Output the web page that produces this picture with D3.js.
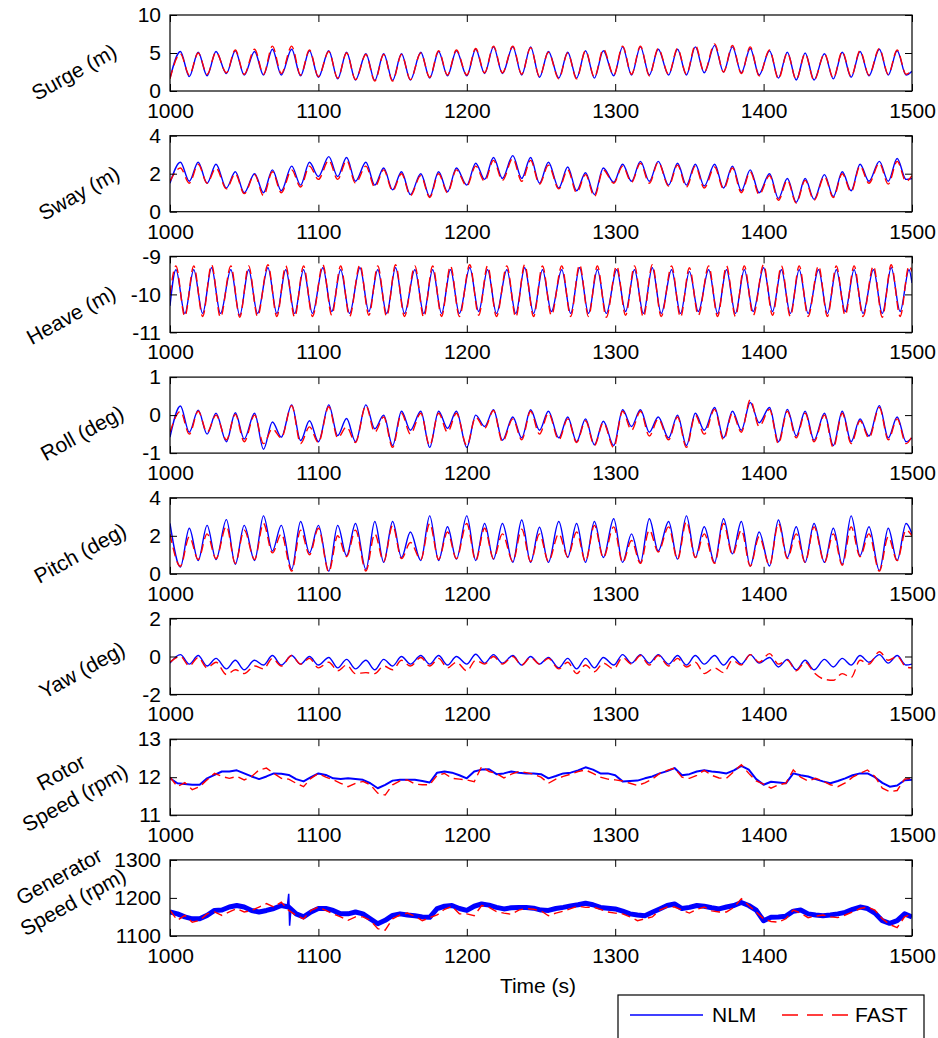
<!DOCTYPE html>
<html>
<head>
<meta charset="utf-8">
<title>NLM vs FAST</title>
<script src="https://d3js.org/d3.v7.min.js"></script>
<style>
  body { margin: 0; background: #fff; }
  text { font-family: "Liberation Sans", Arial, sans-serif; fill: #000; }
</style>
</head>
<body>
<svg id="chart" width="938" height="1038"></svg>
<script>
// ---- data ----
const xTicks = [1000, 1100, 1200, 1300, 1400, 1500];

// times of wave peaks / troughs (surge, sway, roll, pitch, yaw)
const waveT = [1000,1007,1013,1019,1025,1031,1038,1044,1050,1057,
  1063,1069,1075,1082,1088,1094,1100,1107,1113,1119,
  1125,1132,1138,1144,1150,1156,1162,1169,1175,1181,
  1187,1193,1200,1206,1212,1218,1224,1231,1237,1243,
  1249,1255,1262,1268,1274,1280,1286,1292,1299,1305,
  1311,1317,1323,1329,1336,1342,1348,1354,1360,1367,
  1373,1379,1385,1391,1397,1404,1410,1416,1422,1428,
  1434,1441,1447,1453,1459,1465,1471,1478,1484,1490,
  1496,1500];
// heave runs a quarter period ahead
const heaveT = [1000,1004,1010,1016,1022,1028,1034,1041,1047,1053,
  1059,1066,1072,1078,1084,1090,1096,1103,1109,1115,
  1121,1128,1134,1140,1146,1152,1158,1165,1171,1177,
  1183,1189,1195,1202,1208,1214,1220,1227,1233,1239,
  1245,1251,1257,1264,1270,1276,1282,1288,1294,1301,
  1307,1313,1319,1325,1331,1338,1344,1350,1356,1363,
  1369,1375,1381,1387,1393,1400,1406,1412,1418,1424,
  1430,1437,1443,1449,1455,1461,1467,1474,1480,1486,
  1492,1498,1500];
// rotor / generator speed sampled every 5 s
const speedT = d3.range(1000, 1501, 5);

const surgeNLM = [1.7,5.2,1.9,5.1,2.0,5.2,2.3,5.3,2.1,5.2,
  2.1,5.5,2.1,5.5,2.0,5.3,1.8,5.3,1.6,5.1,
  1.45,4.9,1.4,4.9,1.4,4.9,1.45,5.1,1.7,5.2,
  2.0,5.3,2.0,5.5,2.3,5.8,2.3,5.8,2.1,5.8,
  1.8,5.2,1.7,5.1,1.7,5.3,1.7,5.3,2.0,5.8,
  2.1,5.8,2.1,5.5,2.1,5.5,2.1,5.8,2.4,6.0,
  2.5,5.8,2.4,5.6,2.1,5.3,1.7,5.1,1.45,5.0,
  1.45,4.9,1.6,5.1,1.8,5.2,2.0,5.5,2.1,5.3,
  2.1,2.6];
const surgeFAST = [1.6,4.9,2.1,5.0,2.2,5.1,2.4,5.4,2.2,5.5,
  2.2,5.9,2.3,5.9,2.1,5.4,1.9,5.2,1.7,5.0,
  1.5,4.8,1.3,4.8,1.3,4.8,1.5,5.0,1.8,5.3,
  2.1,5.4,2.1,5.6,2.4,5.9,2.4,5.9,2.2,5.7,
  1.9,5.1,1.6,5.0,1.6,5.3,1.8,5.5,2.1,5.9,
  2.2,5.9,2.0,5.6,2.2,5.6,2.2,6.0,2.5,6.2,
  2.5,6.0,2.3,5.8,2.0,5.4,1.6,5.0,1.5,4.9,
  1.4,4.9,1.7,5.2,1.9,5.3,2.1,5.6,2.2,5.4,
  2.2,2.8];

const swayNLM = [1.5,2.6,1.6,2.6,1.5,2.5,1.25,2.1,1.0,2.0,
  1.0,2.2,1.1,2.4,1.4,2.6,1.85,2.9,1.85,2.85,
  1.6,2.6,1.4,2.3,1.15,2.1,0.9,2.0,0.8,2.1,
  1.05,2.3,1.4,2.55,1.7,2.85,1.75,2.95,1.75,2.85,
  1.5,2.6,1.25,2.35,1.1,2.05,0.9,2.3,1.55,2.5,
  1.6,2.65,1.6,2.65,1.4,2.55,1.4,2.5,1.35,2.5,
  1.25,2.4,1.1,2.2,1.0,2.0,0.7,1.75,0.5,1.75,
  0.65,1.95,0.8,2.1,1.1,2.5,1.6,2.65,1.6,2.8,
  1.7,1.75];
const swayFAST = [1.6,2.3,1.5,2.5,1.5,2.3,1.2,2.0,0.95,1.95,
  0.85,2.1,1.0,2.2,1.3,2.4,1.7,2.7,1.7,2.7,
  1.5,2.4,1.3,2.2,1.1,2.0,0.85,1.9,0.75,2.0,
  1.0,2.2,1.35,2.4,1.6,2.7,1.65,2.8,1.6,2.7,
  1.45,2.45,1.2,2.2,1.0,1.95,0.8,2.2,1.5,2.4,
  1.55,2.55,1.5,2.6,1.35,2.45,1.3,2.4,1.25,2.35,
  1.2,2.3,1.0,2.1,0.9,1.9,0.6,1.65,0.45,1.65,
  0.6,1.85,0.75,2.0,1.05,2.4,1.5,2.55,1.45,2.65,
  1.6,1.9];

const heaveNLM = [-10.3,-9.35,-10.5,-9.35,-10.5,-9.3,-10.5,-9.35,-10.55,-9.35,
  -10.5,-9.3,-10.5,-9.35,-10.5,-9.35,-10.5,-9.3,-10.45,-9.35,
  -10.5,-9.3,-10.45,-9.35,-10.5,-9.3,-10.5,-9.35,-10.5,-9.35,
  -10.5,-9.35,-10.5,-9.3,-10.45,-9.35,-10.5,-9.35,-10.5,-9.3,
  -10.5,-9.35,-10.45,-9.35,-10.5,-9.3,-10.5,-9.35,-10.5,-9.35,
  -10.45,-9.35,-10.5,-9.3,-10.5,-9.35,-10.5,-9.4,-10.45,-9.35,
  -10.5,-9.35,-10.5,-9.35,-10.45,-9.3,-10.45,-9.35,-10.5,-9.35,
  -10.5,-9.35,-10.5,-9.35,-10.45,-9.35,-10.5,-9.35,-10.5,-9.3,
  -10.45,-9.35,-9.7];
const heaveFAST = [-10.0,-9.25,-10.58,-9.25,-10.58,-9.22,-10.6,-9.25,-10.6,-9.25,
  -10.58,-9.22,-10.58,-9.25,-10.6,-9.25,-10.58,-9.22,-10.55,-9.25,
  -10.58,-9.22,-10.55,-9.25,-10.58,-9.22,-10.58,-9.25,-10.6,-9.25,
  -10.58,-9.25,-10.58,-9.22,-10.55,-9.25,-10.58,-9.25,-10.6,-9.22,
  -10.58,-9.25,-10.55,-9.25,-10.58,-9.22,-10.58,-9.25,-10.6,-9.25,
  -10.55,-9.25,-10.6,-9.22,-10.58,-9.25,-10.6,-9.3,-10.55,-9.25,
  -10.58,-9.25,-10.58,-9.25,-10.55,-9.22,-10.55,-9.25,-10.58,-9.25,
  -10.58,-9.25,-10.58,-9.25,-10.55,-9.25,-10.58,-9.25,-10.6,-9.22,
  -10.58,-9.25,-9.4];

const rollNLM = [-0.58,0.24,-0.45,0.13,-0.5,0.05,-0.7,0.06,-0.63,0.05,
  -0.9,-0.18,-0.58,0.27,-0.67,-0.15,-0.7,0.27,-0.54,-0.09,
  -0.7,0.27,-0.36,0.0,-0.8,0.1,-0.4,0.1,-0.85,0.1,
  -0.35,0.1,-0.85,0.0,-0.3,0.14,-0.66,-0.05,-0.6,0.14,
  -0.4,0.1,-0.6,-0.05,-0.7,-0.1,-0.78,-0.16,-0.8,0.14,
  -0.3,0.14,-0.45,-0.05,-0.6,0.0,-0.8,0.05,-0.4,0.2,
  -0.6,0.1,-0.4,0.33,-0.2,0.2,-0.7,0.15,-0.55,0.1,
  -0.66,0.05,-0.8,0.1,-0.7,-0.1,-0.55,0.25,-0.6,-0.05,
  -0.7,-0.6];
const rollFAST = [-0.45,0.1,-0.5,0.1,-0.45,0.0,-0.65,0.02,-0.7,0.0,
  -0.75,-0.36,-0.6,0.25,-0.75,-0.31,-0.72,0.22,-0.6,-0.31,
  -0.72,0.25,-0.45,-0.05,-0.85,0.05,-0.5,0.05,-0.8,0.05,
  -0.45,0.05,-0.8,-0.05,-0.35,0.12,-0.7,-0.1,-0.65,0.1,
  -0.5,0.05,-0.65,-0.1,-0.72,-0.15,-0.8,-0.2,-0.85,0.1,
  -0.4,0.1,-0.55,-0.1,-0.65,-0.05,-0.85,0.0,-0.5,0.15,
  -0.65,0.05,-0.45,0.4,-0.3,0.15,-0.75,0.1,-0.6,0.05,
  -0.7,0.0,-0.85,0.05,-0.75,-0.15,-0.6,0.2,-0.65,-0.1,
  -0.75,-0.55];

const pitchNLM = [2.65,0.36,2.4,0.7,2.55,0.75,2.85,0.5,2.55,0.7,
  3.05,1.2,2.55,0.23,2.75,1.1,2.55,0.14,2.55,0.95,
  2.65,0.23,2.75,0.6,2.75,0.86,2.2,0.7,3.05,0.7,
  2.48,0.77,3.05,0.7,2.65,0.77,2.65,0.6,2.83,0.6,
  2.45,0.6,2.75,0.86,2.65,0.6,2.75,0.86,2.9,0.6,
  2.1,0.6,2.9,1.2,2.75,0.77,3.05,0.86,2.48,0.6,
  2.9,1.05,2.75,0.41,2.2,0.41,2.83,0.86,2.48,0.6,
  2.65,0.6,2.4,0.5,3.05,0.95,2.48,0.18,2.4,0.7,
  2.65,2.1];
const pitchFAST = [2.1,0.4,1.95,0.75,2.1,0.8,2.5,0.55,2.3,0.75,
  2.65,1.1,2.1,0.14,2.3,1.0,2.4,0.1,2.0,0.9,
  2.3,0.15,2.1,0.65,2.55,0.8,1.65,0.75,2.65,0.75,
  2.2,0.8,2.65,0.7,2.4,0.8,2.1,0.65,2.35,0.65,
  2.1,0.65,2.1,0.9,2.2,0.65,2.55,0.85,2.47,0.6,
  1.75,0.55,2.3,1.15,2.47,0.75,2.75,0.85,2.1,0.55,
  2.65,1.0,2.3,0.4,1.95,0.45,2.65,0.8,2.1,0.6,
  2.47,0.6,2.1,0.45,2.47,0.9,2.1,0.14,1.95,0.7,
  2.3,2.0];

const yawNLM = [-0.35,0.1,-0.4,0.05,-0.5,-0.1,-0.65,-0.2,-0.7,-0.2,
  -0.45,0.05,-0.45,0.05,-0.4,0.0,-0.45,-0.05,-0.6,-0.15,
  -0.65,-0.2,-0.7,-0.15,-0.5,0.0,-0.4,0.05,-0.4,0.05,
  -0.45,0.0,-0.4,0.12,-0.35,0.1,-0.35,0.05,-0.45,0.0,
  -0.4,-0.05,-0.6,-0.1,-0.65,-0.1,-0.6,-0.05,-0.45,0.1,
  -0.35,0.1,-0.35,0.1,-0.4,0.05,-0.45,0.05,-0.4,0.05,
  -0.45,0.0,-0.4,0.1,-0.35,-0.05,-0.55,-0.15,-0.7,-0.2,
  -0.7,-0.15,-0.55,-0.1,-0.45,0.05,-0.3,0.1,-0.35,0.05,
  -0.45,-0.4];
const yawFAST = [-0.3,0.0,-0.5,-0.05,-0.6,-0.3,-0.95,-0.7,-0.9,-0.5,
  -0.65,-0.1,-0.5,0.05,-0.4,-0.1,-0.6,-0.3,-0.75,-0.45,
  -0.9,-0.85,-0.9,-0.5,-0.7,-0.2,-0.5,-0.05,-0.5,-0.1,
  -0.6,-0.3,-0.75,-0.2,-0.4,0.0,-0.4,0.0,-0.45,-0.05,
  -0.4,-0.1,-0.65,-0.3,-0.9,-0.45,-0.8,-0.35,-0.65,-0.05,
  -0.4,0.05,-0.45,0.05,-0.5,-0.1,-0.55,-0.3,-0.9,-0.6,
  -0.85,-0.2,-0.45,0.1,-0.3,0.15,-0.4,-0.2,-0.75,-0.3,
  -0.85,-1.2,-1.25,-0.9,-1.1,-0.2,-0.4,0.25,-0.2,0.0,
  -0.55,-0.6];

const rotorNLM = [11.97,11.84,11.82,11.8,11.8,11.97,12.06,12.15,12.15,12.18,
  12.1,12.02,11.95,12.02,12.1,12.09,12.06,11.95,11.89,12.0,
  12.1,12.06,11.97,11.95,11.97,11.95,11.93,11.84,11.71,11.8,
  11.91,11.93,11.93,11.93,11.9,11.86,12.12,12.15,12.12,12.05,
  11.97,12.15,12.2,12.21,12.08,12.1,12.15,12.12,12.1,12.1,
  12.08,11.97,12.03,12.1,12.12,12.18,12.26,12.2,12.1,12.1,
  12.05,11.89,11.9,11.91,11.97,12.02,12.1,12.16,12.24,12.05,
  12.08,12.15,12.18,12.15,12.13,12.1,12.18,12.3,12.2,11.95,
  11.8,11.88,11.86,11.84,12.1,12.05,12.02,11.95,11.89,11.84,
  11.9,11.97,12.05,12.1,12.1,12.0,11.85,11.75,11.78,11.92,
  11.93];
const rotorFAST = [12.0,11.75,11.86,11.67,11.75,11.93,12.1,12.02,11.97,12.02,
  11.93,12.02,12.19,12.24,12.1,11.97,11.95,11.84,11.75,11.97,
  12.1,12.0,11.93,11.84,11.75,11.84,11.89,11.8,11.58,11.53,
  11.8,11.9,11.93,11.82,11.8,11.8,12.05,12.1,11.97,11.95,
  11.93,11.88,12.28,12.15,12.1,11.98,12.08,12.15,12.12,12.08,
  12.0,11.84,11.95,12.02,12.08,12.15,12.19,12.1,12.0,11.95,
  11.93,11.9,11.84,11.78,11.85,11.95,12.1,12.18,12.24,12.0,
  11.97,12.05,12.18,12.05,11.98,11.97,12.15,12.33,12.1,11.9,
  11.82,11.71,11.8,11.84,12.19,12.0,11.9,11.97,11.9,11.8,
  11.75,11.85,12.0,12.1,12.19,12.02,11.71,11.62,11.65,11.95,
  11.97];

const genNLM = [1163,1158,1150,1145,1145,1154,1167,1168,1176,1180,
  1176,1167,1163,1167,1172,1180,1176,1158,1150,1163,
  1172,1172,1167,1158,1158,1163,1158,1145,1132,1141,
  1154,1158,1155,1153,1150,1149,1172,1178,1180,1172,
  1167,1178,1184,1181,1175,1171,1174,1175,1175,1173,
  1168,1167,1172,1175,1179,1182,1186,1182,1175,1173,
  1171,1165,1158,1155,1153,1162,1171,1180,1184,1172,
  1175,1180,1178,1174,1171,1176,1180,1188,1180,1168,
  1140,1149,1150,1152,1165,1168,1158,1155,1153,1155,
  1158,1162,1170,1176,1172,1160,1140,1133,1140,1158,
  1150];
const genFAST = [1167,1141,1154,1136,1141,1158,1163,1154,1163,1172,
  1163,1167,1176,1185,1176,1189,1167,1154,1145,1167,
  1176,1167,1158,1150,1141,1150,1150,1141,1119,1115,
  1145,1155,1160,1152,1140,1148,1155,1170,1178,1158,
  1158,1153,1180,1175,1164,1160,1157,1168,1172,1170,
  1166,1153,1160,1165,1172,1178,1175,1176,1170,1163,
  1160,1158,1150,1140,1145,1150,1168,1176,1176,1168,
  1160,1170,1176,1166,1163,1163,1175,1198,1180,1163,
  1145,1138,1136,1145,1168,1160,1148,1152,1155,1150,
  1148,1155,1163,1172,1176,1168,1145,1130,1122,1150,
  1158];
// short spike in the NLM generator speed near t = 1080 s
const genSpikeT = [1079, 1080, 1080.6, 1081.5];
const genSpikeV = [1176, 1211, 1127, 1170];

// ---- layout ----
const W = 938, H = 1038;
const left = 170, right = 912;
const panelTop0 = 15, panelStep = 120.7, panelH = 76;
const blue = "#0000ff", red = "#ff0000";
const fontSize = 21;

const panels = [
  { label: ["Surge (m)"], domain: [0, 10], ticks: [0, 5, 10], t: waveT, nlm: surgeNLM, fast: surgeFAST, lx: 74, ly: 72 },
  { label: ["Sway (m)"], domain: [0, 4], ticks: [0, 2, 4], t: waveT, nlm: swayNLM, fast: swayFAST, lx: 79, ly: 193 },
  { label: ["Heave (m)"], domain: [-11, -9], ticks: [-11, -10, -9], t: heaveT, nlm: heaveNLM, fast: heaveFAST, lx: 71, ly: 315 },
  { label: ["Roll (deg)"], domain: [-1, 1], ticks: [-1, 0, 1], t: waveT, nlm: rollNLM, fast: rollFAST, lx: 82, ly: 433 },
  { label: ["Pitch (deg)"], domain: [0, 4], ticks: [0, 2, 4], t: waveT, nlm: pitchNLM, fast: pitchFAST, lx: 80, ly: 553 },
  { label: ["Yaw (deg)"], domain: [-2, 2], ticks: [-2, 0, 2], t: waveT, nlm: yawNLM, fast: yawFAST, lx: 82, ly: 670 },
  { label: ["Rotor", "Speed (rpm)"], domain: [11, 13], ticks: [11, 12, 13], t: speedT, nlm: rotorNLM, fast: rotorFAST, lx: 68, ly: 785, speed: true, nlmWidth: 2 },
  { label: ["Generator", "Speed (rpm)"], domain: [1100, 1300], ticks: [1100, 1200, 1300], t: speedT, nlm: genNLM, fast: genFAST, lx: 66, ly: 889, speed: true, nlmWidth: 5 }
];

const svg = d3.select("#chart");
svg.append("rect").attr("width", W).attr("height", H).attr("fill", "#fff");

const x = d3.scaleLinear().domain([1000, 1500]).range([left, right]);
const fmt = d => String(d);   // plain hyphen minus, as in the original

panels.forEach((p, i) => {
  const top = panelTop0 + i * panelStep;
  const y = d3.scaleLinear().domain(p.domain).range([top + panelH, top]);
  const g = svg.append("g");

  const clipId = "clip" + i;
  svg.append("clipPath").attr("id", clipId)
    .append("rect").attr("x", left).attr("y", top).attr("width", right - left).attr("height", panelH);

  const line = d3.line()
    .x(d => x(d[0]))
    .y(d => y(d[1]))
    .curve(p.speed ? d3.curveLinear : d3.curveMonotoneX);

  const nlmPts = p.t.map((t, k) => [t, p.nlm[k]]).filter(d => d[1] !== undefined);
  const fastPts = p.t.map((t, k) => [t, p.fast[k]]).filter(d => d[1] !== undefined);

  const lines = g.append("g").attr("clip-path", `url(#${clipId})`);
  lines.append("path").datum(nlmPts)
    .attr("d", line)
    .attr("fill", "none").attr("stroke", blue)
    .attr("stroke-width", p.nlmWidth || 1.4)
    .attr("stroke-linejoin", "round");
  if (i === 7) {
    lines.append("path").datum(genSpikeT.map((t, k) => [t, genSpikeV[k]]))
      .attr("d", d3.line().x(d => x(d[0])).y(d => y(d[1])))
      .attr("fill", "none").attr("stroke", blue).attr("stroke-width", 1.5);
  }
  lines.append("path").datum(fastPts)
    .attr("d", line)
    .attr("fill", "none").attr("stroke", red)
    .attr("stroke-width", 1.4)
    .attr("stroke-dasharray", "9,5");

  // axes, MATLAB style: ticks inward on all four sides
  const axB = g.append("g").attr("transform", `translate(0,${top + panelH})`)
    .call(d3.axisBottom(x).tickValues(xTicks).tickSize(-7).tickPadding(12).tickFormat(fmt));
  const axT = g.append("g").attr("transform", `translate(0,${top})`)
    .call(d3.axisTop(x).tickValues(xTicks).tickSize(-7).tickFormat(""));
  const axL = g.append("g").attr("transform", `translate(${left},0)`)
    .call(d3.axisLeft(y).tickValues(p.ticks).tickSize(-7).tickPadding(9).tickFormat(fmt));
  const axR = g.append("g").attr("transform", `translate(${right},0)`)
    .call(d3.axisRight(y).tickValues(p.ticks).tickSize(-7).tickFormat(""));
  [axB, axT, axL, axR].forEach(a => {
    a.select(".domain").remove();
    a.selectAll("line").attr("stroke", "#000");
    a.selectAll("text").attr("font-size", fontSize).attr("font-family", "Liberation Sans, Arial, sans-serif").attr("fill", "#000");
  });

  g.append("rect")
    .attr("x", left).attr("y", top).attr("width", right - left).attr("height", panelH)
    .attr("fill", "none").attr("stroke", "#000").attr("stroke-width", 1.2);

  // rotated y label
  const lab = svg.append("text")
    .attr("transform", `translate(${p.lx},${p.ly}) rotate(-29)`)
    .attr("text-anchor", "middle")
    .attr("font-size", fontSize);
  const n = p.label.length;
  p.label.forEach((s, k) => {
    lab.append("tspan").attr("x", 0).attr("y", (k - (n - 1) / 2) * 29).attr("dy", "0.35em").text(s);
  });
});

// x axis title
svg.append("text").attr("x", 538).attr("y", 993).attr("text-anchor", "middle")
  .attr("font-size", fontSize).text("Time (s)");

// legend
const lg = svg.append("g");
lg.append("rect").attr("x", 618).attr("y", 995).attr("width", 306).attr("height", 60)
  .attr("fill", "#fff").attr("stroke", "#000").attr("stroke-width", 1.2);
lg.append("line").attr("x1", 630).attr("x2", 703).attr("y1", 1015).attr("y2", 1015)
  .attr("stroke", blue).attr("stroke-width", 1.4);
lg.append("text").attr("x", 712).attr("y", 1015).attr("dy", "0.35em").attr("font-size", fontSize).text("NLM");
lg.append("line").attr("x1", 782).attr("x2", 848).attr("y1", 1015).attr("y2", 1015)
  .attr("stroke", red).attr("stroke-width", 1.4).attr("stroke-dasharray", "16,9");
lg.append("text").attr("x", 855).attr("y", 1015).attr("dy", "0.35em").attr("font-size", fontSize).text("FAST");
</script>
</body>
</html>
